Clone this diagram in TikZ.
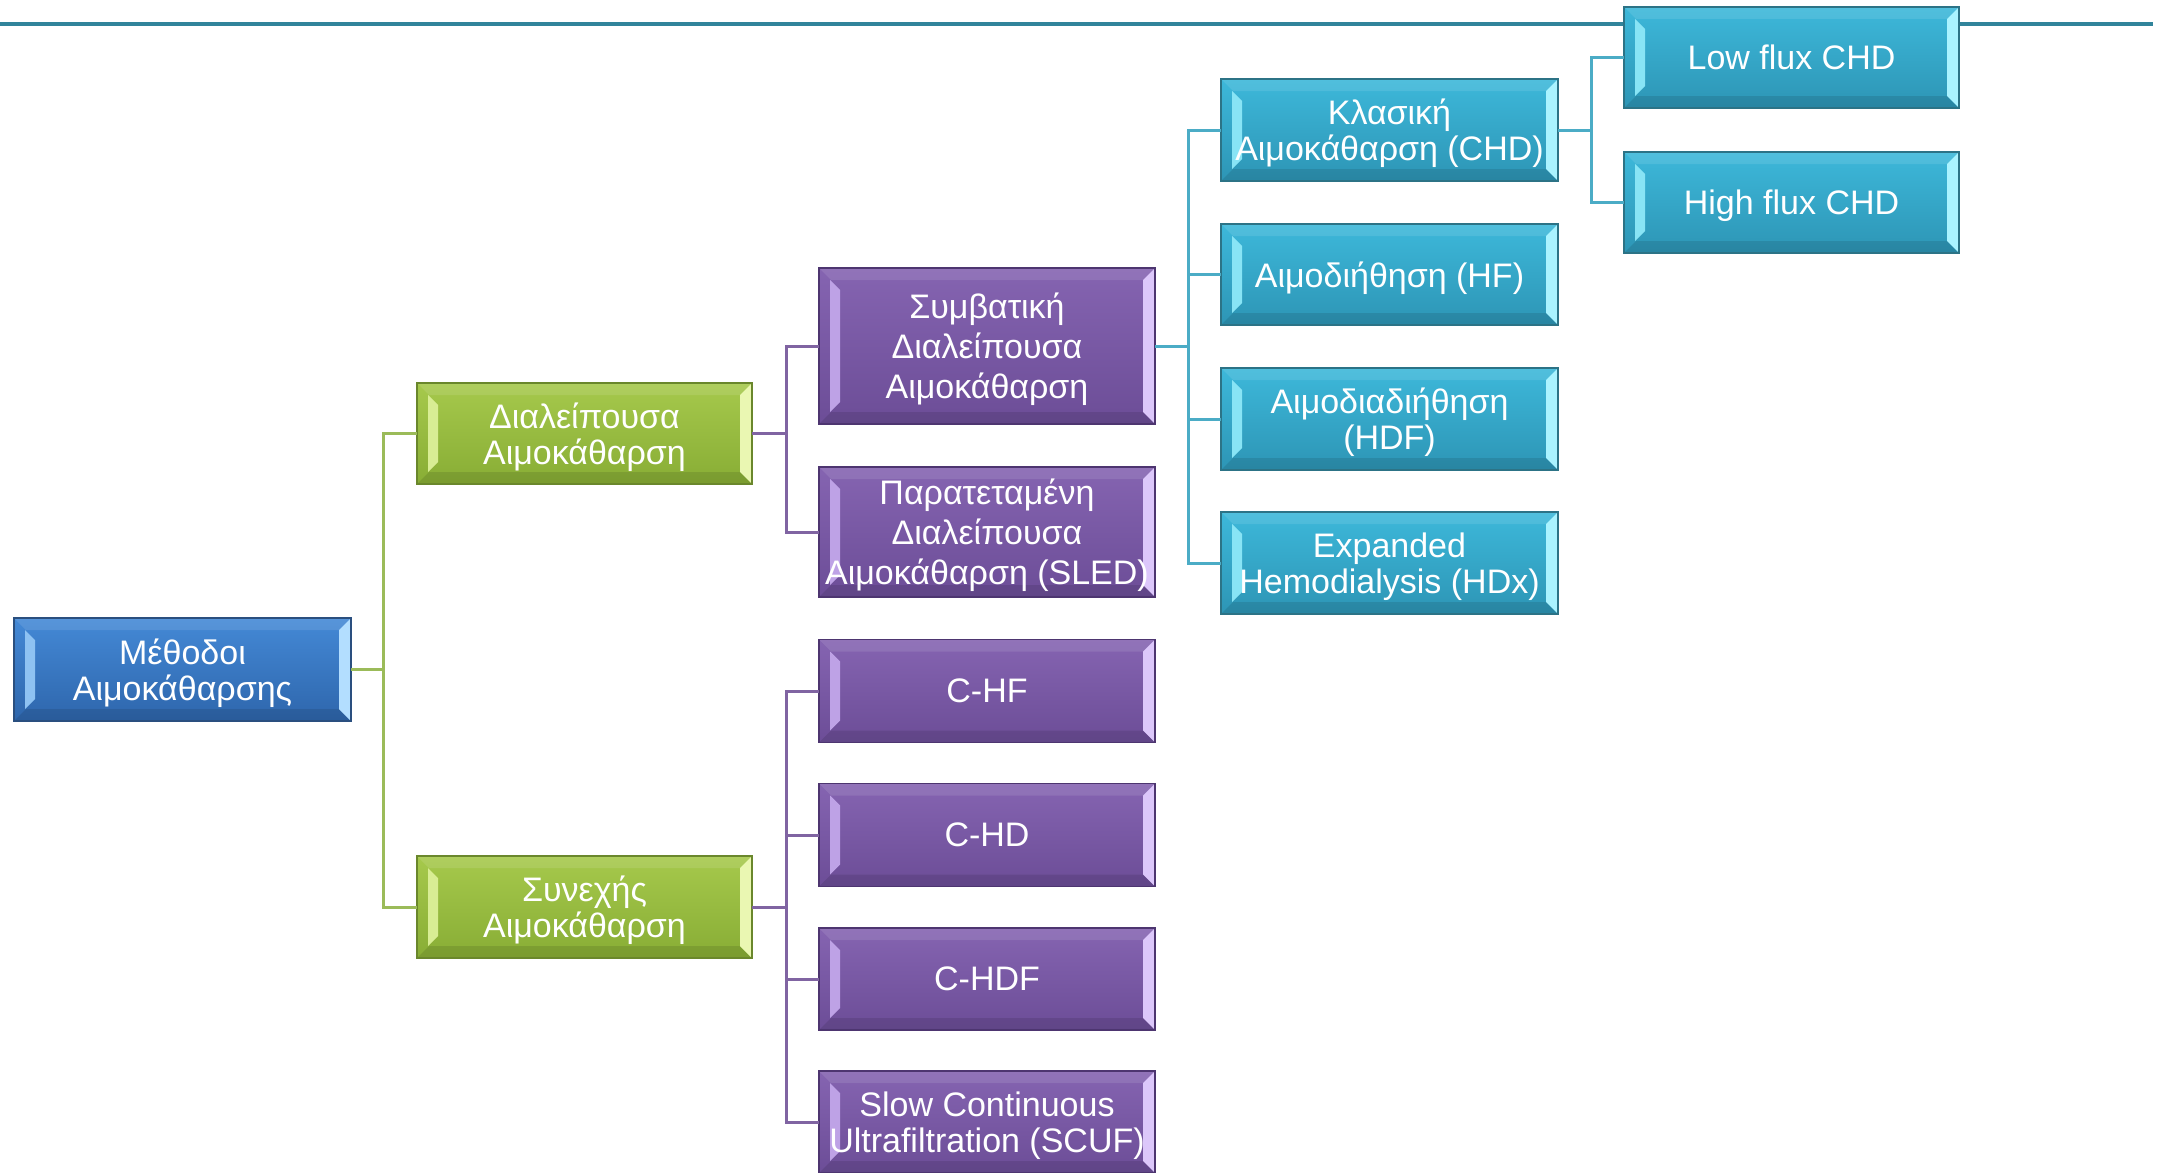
\documentclass[tikz,border=0pt]{standalone}
\usepackage{fontspec}
\setmainfont{Liberation Sans}
\usetikzlibrary{calc}

% palette
\definecolor{ruleTeal}{HTML}{31849B}
\definecolor{lnGreen}{HTML}{9BBB59}
\definecolor{lnPurple}{HTML}{8064A2}
\definecolor{lnTeal}{HTML}{4BACC6}

\definecolor{bluTop}{HTML}{4489D6}
\definecolor{bluBot}{HTML}{2E66AC}
\definecolor{bluEdge}{HTML}{2A4F7F}
\definecolor{bluL}{HTML}{8EC2F2}
\definecolor{bluR}{HTML}{B3DEFF}

\definecolor{grnTop}{HTML}{A6C94C}
\definecolor{grnBot}{HTML}{88AD35}
\definecolor{grnEdge}{HTML}{6A872C}
\definecolor{grnL}{HTML}{D8ED94}
\definecolor{grnR}{HTML}{EAF7B2}

\definecolor{purTop}{HTML}{8564B1}
\definecolor{purBot}{HTML}{6C4D97}
\definecolor{purEdge}{HTML}{4D3570}
\definecolor{purL}{HTML}{BEA2E6}
\definecolor{purR}{HTML}{DCC7FA}

\definecolor{tlTop}{HTML}{3DB8DA}
\definecolor{tlBot}{HTML}{2D95B5}
\definecolor{tlEdge}{HTML}{2C7386}
\definecolor{tlL}{HTML}{88E4F5}
\definecolor{tlR}{HTML}{AAF3FF}

\newcommand\boxfont{\fontsize{34}{36}\selectfont}
\newcommand\tallfont{\fontsize{34}{40}\selectfont}

\tikzset{
  % bevelled frame: light left strip (inset), lighter right strip (at the edge),
  % soft highlight along the top and shadow along the bottom
  bevel/.style 2 args={
    path picture={
      \fill[white, opacity=0.10] let \p1=(path picture bounding box.north west),
          \p2=(path picture bounding box.south east) in
        (\x1,\y1) -- (\x2,\y1) -- (\x2-12pt,\y1-12pt) -- (\x1+12pt,\y1-12pt) -- cycle;
      \fill[black, opacity=0.10] let \p1=(path picture bounding box.north west),
          \p2=(path picture bounding box.south east) in
        (\x1,\y2) -- (\x2,\y2) -- (\x2-12pt,\y2+12pt) -- (\x1+12pt,\y2+12pt) -- cycle;
      \fill[#1] let \p1=(path picture bounding box.north west),
          \p2=(path picture bounding box.south east) in
        (\x1+11pt,\y1-12pt) -- (\x1+21pt,\y1-22pt) -- (\x1+21pt,\y2+22pt)
        -- (\x1+11pt,\y2+12pt) -- cycle;
      \fill[#2] let \p1=(path picture bounding box.north west),
          \p2=(path picture bounding box.south east) in
        (\x2,\y1) -- (\x2,\y2) -- (\x2-12pt,\y2+12pt) -- (\x2-12pt,\y1-12pt) -- cycle;
    }
  },
  boxbase/.style={rectangle, line width=1.6pt, inner sep=0pt, outer sep=0pt,
    minimum width=336pt, minimum height=102pt, text depth=0pt,
    text=white, align=center, font=\boxfont},
  bluebox/.style={boxbase, draw=bluEdge, top color=bluTop, bottom color=bluBot, bevel={bluL}{bluR}},
  greenbox/.style={boxbase, draw=grnEdge, top color=grnTop, bottom color=grnBot, bevel={grnL}{grnR}},
  purplebox/.style={boxbase, draw=purEdge, top color=purTop, bottom color=purBot, bevel={purL}{purR}},
  tealbox/.style={boxbase, draw=tlEdge, top color=tlTop, bottom color=tlBot, bevel={tlL}{tlR}},
  gline/.style={draw=lnGreen, line width=3pt},
  pline/.style={draw=lnPurple, line width=3pt},
  tline/.style={draw=lnTeal, line width=3pt},
}

\begin{document}
\begin{tikzpicture}[x=1pt, y=-1pt]
\clip (0,0) rectangle (2167,1172);

% header rule
\coordinate (ruleL) at (0,24);
\coordinate (ruleR) at (2153,24);
\draw[ruleTeal, line width=4pt] (ruleL) -- (ruleR);

% bus positions
\coordinate (busA) at (383,0);
\coordinate (busB) at (786,0);
\coordinate (busC) at (1188,0);
\coordinate (busD) at (1591,0);

% level 0
\node[bluebox, minimum width=337pt, minimum height=103pt] (root) at (182.5,669.5) {Μέθοδοι\\Αιμοκάθαρσης};

% level 1
\node[greenbox, minimum width=335pt, minimum height=101pt] (dia) at (584.5,433.5) {Διαλείπουσα\\Αιμοκάθαρση};
\node[greenbox, minimum width=335pt] (syn) at (584.5,907) {Συνεχής\\Αιμοκάθαρση};

% level 2
\node[purplebox, minimum height=156pt, font=\tallfont] (sym) at (987,346) {Συμβατική\\Διαλείπουσα\\Αιμοκάθαρση};
\node[purplebox, minimum height=130pt, font=\tallfont] (sled) at (987,532) {Παρατεταμένη\\Διαλείπουσα\\Αιμοκάθαρση (SLED)};
\node[purplebox, minimum height=103pt] (chf) at (987,691) {C-HF};
\node[purplebox, minimum height=103pt] (chd) at (987,835) {C-HD};
\node[purplebox] (chdf) at (987,979) {C-HDF};
\node[purplebox] (scuf) at (987,1122) {Slow Continuous\\Ultrafiltration (SCUF)};

% level 3
\node[tealbox, minimum width=337pt] (kla) at (1389.5,130) {Κλασική\\Αιμοκάθαρση (CHD)};
\node[tealbox, minimum width=337pt, minimum height=101pt] (hf) at (1389.5,274.5) {Αιμοδιήθηση (HF)};
\node[tealbox, minimum width=337pt] (hdf) at (1389.5,419) {Αιμοδιαδιήθηση\\(HDF)};
\node[tealbox, minimum width=337pt] (hdx) at (1389.5,563) {Expanded\\Hemodialysis (HDx)};

% level 4
\node[tealbox, minimum width=335pt, minimum height=101pt] (low) at (1791.5,57.5) {Low flux CHD};
\node[tealbox, minimum width=335pt, minimum height=101pt] (high) at (1791.5,202.5) {High flux CHD};

% connectors
\draw[gline] (root.east) -- (busA |- root.east);
\draw[gline] (dia.west) -| (busA |- syn.west) -- (syn.west);

\draw[pline] (dia.east) -- (busB |- dia.east);
\draw[pline] (sym.west) -| (busB |- sled.west) -- (sled.west);
\draw[pline] (syn.east) -- (busB |- syn.east);
\draw[pline] (chf.west) -| (busB |- scuf.west) -- (scuf.west);
\draw[pline] (busB |- chd.west) -- (chd.west);
\draw[pline] (busB |- chdf.west) -- (chdf.west);

\draw[tline] (sym.east) -- (busC |- sym.east);
\draw[tline] (kla.west) -| (busC |- hdx.west) -- (hdx.west);
\draw[tline] (busC |- hf.west) -- (hf.west);
\draw[tline] (busC |- hdf.west) -- (hdf.west);

\draw[tline] (kla.east) -- (busD |- kla.east);
\draw[tline] (low.west) -| (busD |- high.west) -- (high.west);
\end{tikzpicture}
\end{document}
